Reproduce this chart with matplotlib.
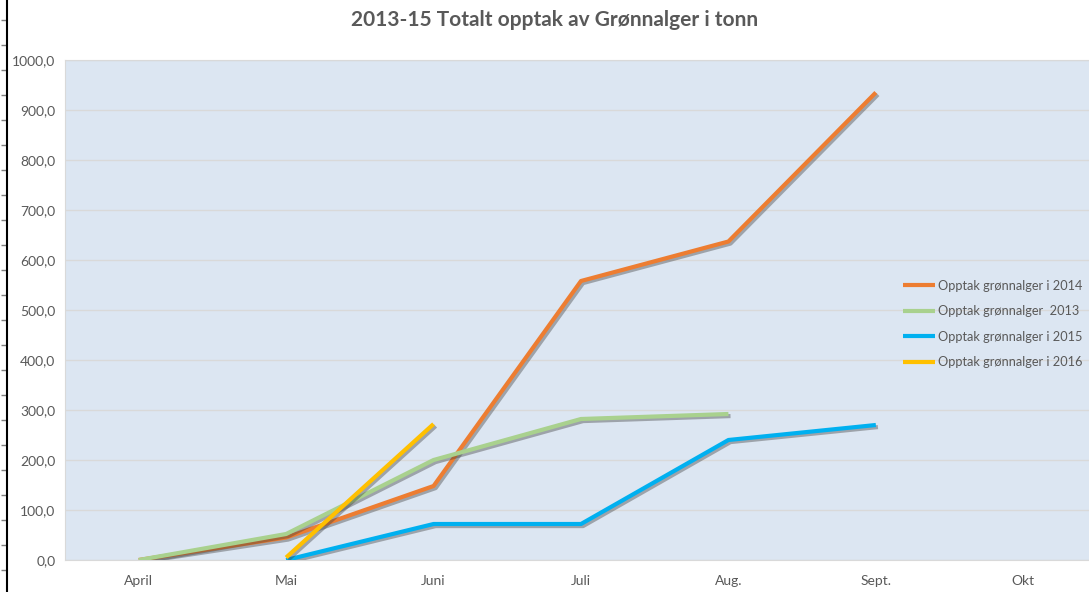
import numpy as np
import matplotlib.pyplot as plt
import matplotlib.patheffects as pe
from matplotlib.ticker import FuncFormatter

plt.rcParams['font.family'] = ['Lato', 'DejaVu Sans']

months = ['April', 'Mai', 'Juni', 'Juli', 'Aug.', 'Sept.', 'Okt']

# values in tonn, per month (None = no data)
val_2014 = [0, 45, 148, 558, 637, 935]
val_2013 = [0, 52, 200, 282, 292]
val_2015 = [None, 0, 72, 72, 240, 270]
val_2016 = [None, 5, 272]

series = [
    ('Opptak grønnalger i 2014', val_2014, '#ed7d31'),
    ('Opptak grønnalger  2013', val_2013, '#a9d18e'),
    ('Opptak grønnalger i 2015', val_2015, '#00b0f0'),
    ('Opptak grønnalger i 2016', val_2016, '#ffc000'),
]

fig = plt.figure(figsize=(10.89, 5.92), dpi=100)

# stray axis line at the far left of the sheet
side = fig.add_axes([7 / 1089, 0, 0.001, 1])
side.set_facecolor('none')
for s in ['top', 'right', 'bottom']:
    side.spines[s].set_visible(False)
side.spines['left'].set_linewidth(1.5)
side.set_xticks([])
side.set_ylim(0, 592)
side.set_yticks(np.arange(572, 0, -25))
side.tick_params(axis='y', length=4, width=1, color='#7f7f7f', labelleft=False)

ax = fig.add_axes([65 / 1089, 32 / 592, 1032 / 1089, 500 / 592])
ax.set_facecolor('#dce6f2')
for s in ax.spines.values():
    s.set_color('#d9d9d9')

x = np.arange(len(months))
shadow = [pe.SimpleLineShadow(offset=(1.5, -1.5), shadow_color='#404040', alpha=0.4),
          pe.Normal()]
for label, vals, color in series:
    xs = [x[i] for i, v in enumerate(vals) if v is not None]
    ys = [v for v in vals if v is not None]
    ax.plot(xs, ys, color=color, lw=3, label=label, path_effects=shadow,
            solid_capstyle='butt', zorder=3)

ax.set_xlim(-0.5, len(months) - 0.5)
ax.set_ylim(0, 1000)
ax.set_yticks(np.arange(0, 1001, 100))
ax.yaxis.set_major_formatter(FuncFormatter(lambda v, p: f'{v:.1f}'.replace('.', ',')))
ax.set_xticks(x)
ax.set_xticklabels(months)
ax.tick_params(axis='both', length=0, labelsize=10, colors='#595959', pad=11)
ax.tick_params(axis='y', pad=7)
ax.grid(axis='y', color='#d9d9d9', lw=1)
ax.set_axisbelow(True)

leg = ax.legend(loc='center left', bbox_to_anchor=(898 / 1089, 1 - 324 / 592),
                bbox_transform=fig.transFigure, frameon=False, fontsize=9.2,
                handlelength=2.5, handletextpad=0.2, labelspacing=1.05,
                borderaxespad=0)
for t in leg.get_texts():
    t.set_color('#595959')
for h in leg.get_lines():
    h.set_path_effects([])

fig.text(555 / 1089, 1 - 20 / 592, '2013-15 Totalt opptak av Grønnalger i tonn',
         ha='center', va='center', fontsize=15, fontweight='bold', color='#595959')

fig.savefig('out.png', dpi=100)
